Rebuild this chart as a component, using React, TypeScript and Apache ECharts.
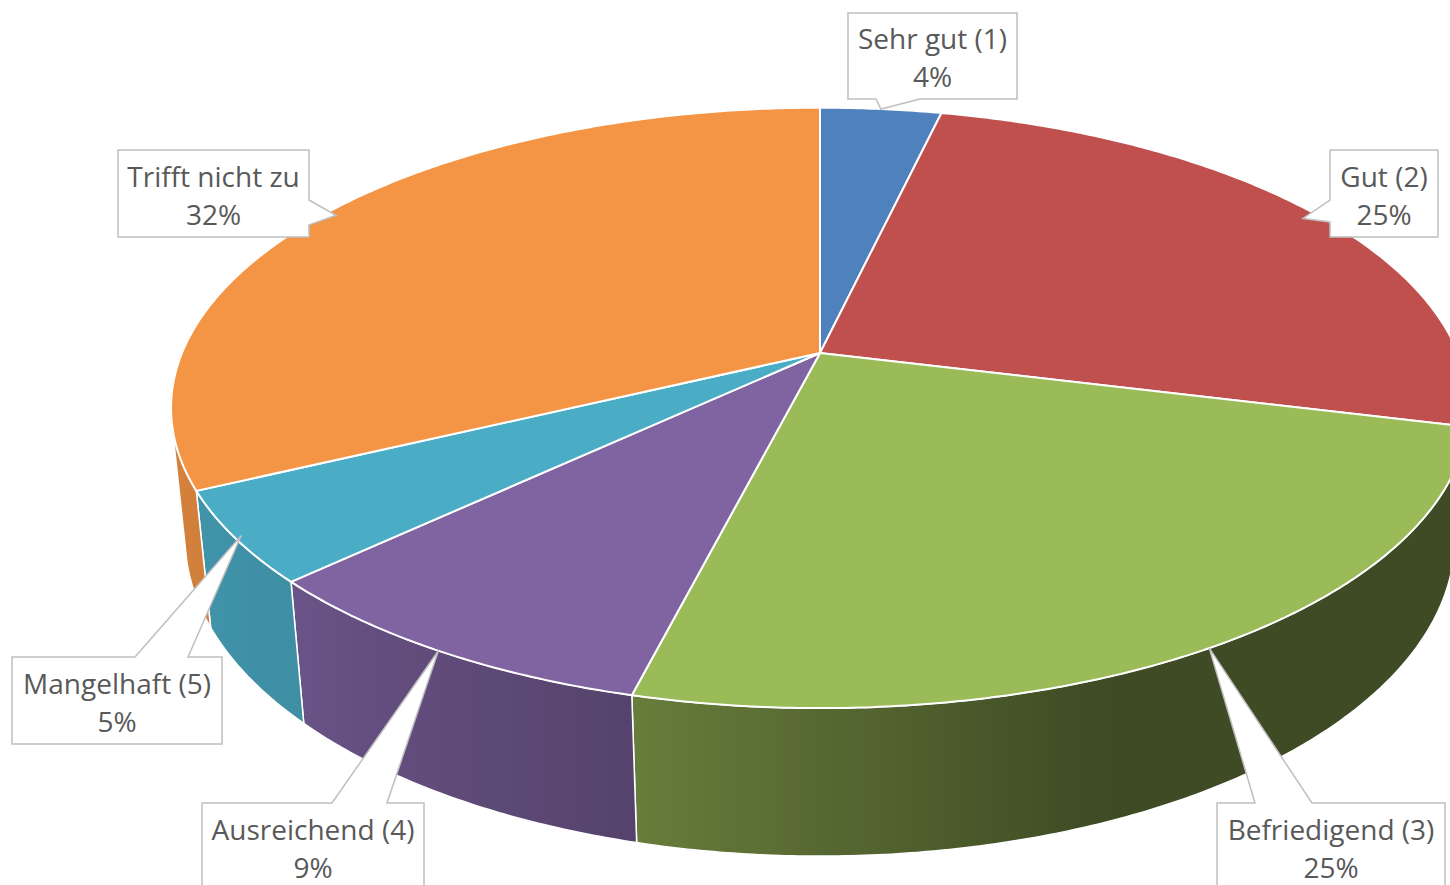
import React, { useEffect, useRef } from "react";
import * as echarts from "echarts";

// ---- data ----
const categories = [
  "Sehr gut (1)",
  "Gut (2)",
  "Befriedigend (3)",
  "Ausreichend (4)",
  "Mangelhaft (5)",
  "Trifft nicht zu",
];
const shares = [3.6, 25.3, 25.0, 9.0, 4.9, 32.2];
const colors = ["#4f81bd", "#c0504d", "#9bbb59", "#8064a2", "#4bacc6", "#f49545"];

// ---- callout layout (boxes) ----
type Side = "top" | "bottom" | "left" | "right";
const LABEL_LAYOUT: { x: number; y: number; w: number; h: number; side: Side; p1: number; p2: number; r: number }[] = [
  { x: 848, y: 13, w: 169, h: 86, side: "bottom", p1: 876, p2: 920, r: 1.0 },
  { x: 1330, y: 150, w: 108, h: 87, side: "left", p1: 200, p2: 222, r: 0.97 },
  { x: 1217, y: 803, w: 228, h: 87, side: "top", p1: 1255, p2: 1312, r: 1.0 },
  { x: 202, y: 803, w: 222, h: 87, side: "top", p1: 332, p2: 387, r: 1.0 },
  { x: 12, y: 657, w: 210, h: 87, side: "top", p1: 135, p2: 188, r: 0.99 },
  { x: 118, y: 150, w: 191, h: 87, side: "right", p1: 200, p2: 225, r: 0.98 },
];

// ---- projection ----
const CX = 820;
const CY = 353;
const F = 638;
const K = 0.2054;
const SA = 0.4548;
const CA = Math.sqrt(1 - SA * SA);
const DEPTH = 0.232;

function proj(thetaDeg: number, r: number, down: number): [number, number] {
  const t = (thetaDeg * Math.PI) / 180;
  const X = r * Math.sin(t);
  const Z = r * Math.cos(t);
  const Y = -down;
  const yc = Z * SA + Y * CA;
  const zc = Z * CA - Y * SA;
  const d = 1 + K * zc;
  return [CX + (F * X) / d, CY - (F * yc) / d];
}

const VIS_HALF = (Math.acos(-K / CA) * 180) / Math.PI;
const VIS0 = VIS_HALF;
const VIS1 = 360 - VIS_HALF;

const SHADE_PTS: [number, number][] = [
  [90, 0.4],
  [159, 0.4],
  [194, 0.67],
  [226, 0.83],
  [245, 0.86],
  [270, 0.88],
];
function shade(th: number): number {
  if (th <= SHADE_PTS[0][0]) return SHADE_PTS[0][1];
  for (let i = 1; i < SHADE_PTS.length; i++) {
    const [a, va] = SHADE_PTS[i - 1];
    const [b, vb] = SHADE_PTS[i];
    if (th <= b) return va + ((vb - va) * (th - a)) / (b - a);
  }
  return SHADE_PTS[SHADE_PTS.length - 1][1];
}
function scaleColor(hex: string, f: number): string {
  const n = parseInt(hex.slice(1), 16);
  const r = Math.round(((n >> 16) & 255) * f);
  const g = Math.round(((n >> 8) & 255) * f);
  const b = Math.round((n & 255) * f);
  return `rgb(${r},${g},${b})`;
}

function computeAngles(): [number, number][] {
  const total = shares.reduce((a, b) => a + b, 0);
  let acc = 0;
  return shares.map((v) => {
    const a0 = (acc / total) * 360;
    acc += v;
    const a1 = (acc / total) * 360;
    return [a0, a1];
  });
}

export default function App() {
  const ref = useRef<HTMLDivElement>(null);
  useEffect(() => {
    if (!ref.current) return;
    const chart = echarts.init(ref.current, undefined, { renderer: "svg" });
    const angles = computeAngles();
    const total = shares.reduce((a, b) => a + b, 0);
    const data = shares.map((v, i) => [i, v]);

    const wallSeries = {
      type: "custom",
      coordinateSystem: "none",
      z: 1,
      silent: true,
      data,
      renderItem: (params: any) => {
        const i = params.dataIndex;
        const [a0, a1] = angles[i];
        const s = Math.max(a0, VIS0);
        const e = Math.min(a1, VIS1);
        if (e <= s) return { type: "group", children: [] };
        const n = Math.max(2, Math.ceil((e - s) / 0.5));
        const top: number[][] = [];
        const bot: number[][] = [];
        const stopsRaw: { x: number; c: string }[] = [];
        for (let j = 0; j <= n; j++) {
          const th = s + ((e - s) * j) / n;
          const p = proj(th, 1, 0);
          top.push(p);
          bot.push(proj(th, 1, DEPTH));
          if (j % 6 === 0 || j === n) stopsRaw.push({ x: p[0], c: scaleColor(colors[i], shade(th)) });
        }
        const xs = top.map((p) => p[0]);
        const xmin = Math.min(...xs);
        const xmax = Math.max(...xs);
        const span = Math.max(1, xmax - xmin);
        const colorStops = stopsRaw
          .map((st) => ({ offset: Math.min(1, Math.max(0, (st.x - xmin) / span)), color: st.c }))
          .sort((a, b) => a.offset - b.offset);
        const points = top.concat(bot.slice().reverse());
        return {
          type: "polygon",
          shape: { points },
          style: {
            fill: { type: "linear", x: xmin, y: 0, x2: xmin + span, y2: 0, global: true, colorStops },
            stroke: "#ffffff",
            lineWidth: 1.5,
            lineJoin: "round",
          },
        };
      },
    };

    const topSeries = {
      type: "custom",
      coordinateSystem: "none",
      z: 2,
      silent: true,
      data,
      renderItem: (params: any) => {
        const i = params.dataIndex;
        const [a0, a1] = angles[i];
        const n = Math.max(2, Math.ceil((a1 - a0) / 0.5));
        const pts: number[][] = [[CX, CY]];
        for (let j = 0; j <= n; j++) pts.push(proj(a0 + ((a1 - a0) * j) / n, 1, 0));
        return {
          type: "polygon",
          shape: { points: pts },
          style: { fill: colors[i], stroke: "#ffffff", lineWidth: 2, lineJoin: "round" },
        };
      },
    };

    const labelSeries = {
      type: "custom",
      coordinateSystem: "none",
      z: 3,
      silent: true,
      data,
      renderItem: (params: any) => {
        const i = params.dataIndex;
        const L = LABEL_LAYOUT[i];
        const [a0, a1] = angles[i];
        const tip = proj((a0 + a1) / 2, L.r, 0);
        const { x, y, w, h, p1, p2 } = L;
        let pts: number[][];
        if (L.side === "bottom") {
          pts = [[x, y], [x + w, y], [x + w, y + h], [p2, y + h], tip, [p1, y + h], [x, y + h]];
        } else if (L.side === "top") {
          pts = [[x, y], [p1, y], tip, [p2, y], [x + w, y], [x + w, y + h], [x, y + h]];
        } else if (L.side === "left") {
          pts = [[x, y], [x + w, y], [x + w, y + h], [x, y + h], [x, p2], tip, [x, p1]];
        } else {
          pts = [[x, y], [x + w, y], [x + w, p1], tip, [x + w, p2], [x + w, y + h], [x, y + h]];
        }
        const pct = Math.round((shares[i] / total) * 100);
        return {
          type: "group",
          children: [
            {
              type: "polygon",
              shape: { points: pts },
              style: { fill: "#ffffff", stroke: "#bfbfbf", lineWidth: 1.5 },
            },
            {
              type: "text",
              style: {
                text: `${categories[i]}\n${pct}%`,
                x: x + w / 2,
                y: y + h / 2 + 1,
                align: "center",
                verticalAlign: "middle",
                fill: "#595959",
                fontSize: 28,
                fontFamily: "Open Sans",
                lineHeight: 38,
              },
            },
          ],
        };
      },
    };

    chart.setOption({
      animation: false,
      backgroundColor: "#ffffff",
      series: [wallSeries, topSeries, labelSeries],
    } as any);
    return () => chart.dispose();
  }, []);
  return (
    <div
      ref={ref}
      style={{ position: "fixed", left: 0, top: 0, width: 1450, height: 885, background: "#ffffff" }}
    />
  );
}
